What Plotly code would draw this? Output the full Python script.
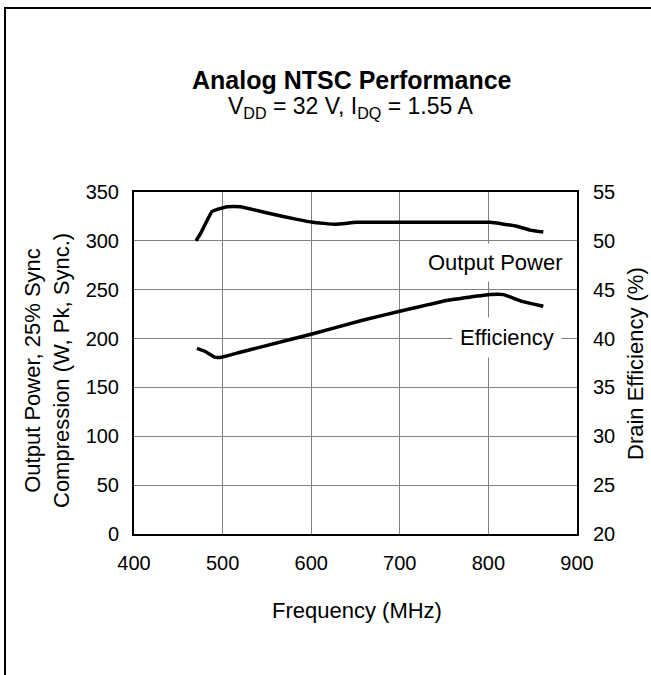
import plotly.graph_objects as go

# Data
freq_power = [470, 476, 488, 497, 505, 520, 553, 584, 602, 627, 651, 700, 750, 802, 832, 847, 862]
output_power = [300, 309, 330, 333, 335, 335, 328, 322, 319, 317, 319, 319, 319, 319, 315, 311, 309]

freq_eff = [471, 480, 491, 499, 520, 546, 602, 659, 700, 753, 802, 817, 838, 862]
efficiency = [39.0, 38.7, 38.1, 38.1, 38.6, 39.2, 40.5, 41.9, 42.8, 43.9, 44.5, 44.5, 43.8, 43.3]

x_ticks = [400, 500, 600, 700, 800, 900]
y_left_ticks = [0, 50, 100, 150, 200, 250, 300, 350]
y_right_ticks = [20, 25, 30, 35, 40, 45, 50, 55]

FONT = "Liberation Sans, Arial, sans-serif"
W, H = 651, 675
L, R, T, B = 134, 577, 192, 534

fig = go.Figure()
fig.add_trace(go.Scatter(x=freq_power, y=output_power, mode="lines",
                         line=dict(color="black", width=3.5, shape="spline", smoothing=0.3),
                         showlegend=False, yaxis="y"))
fig.add_trace(go.Scatter(x=freq_eff, y=efficiency, mode="lines",
                         line=dict(color="black", width=3.5, shape="spline", smoothing=0.3),
                         showlegend=False, yaxis="y2"))

axis_common = dict(showline=True, linecolor="black", linewidth=2, ticks="",
                   tickfont=dict(family=FONT, size=20, color="black"), zeroline=False)

fig.update_layout(
    width=W, height=H,
    margin=dict(l=L, r=W - R, t=T, b=H - B, pad=0),
    paper_bgcolor="white", plot_bgcolor="white",
    xaxis=dict(range=[400, 900], tickvals=x_ticks, showgrid=True, gridcolor="#808080",
               gridwidth=1, mirror=True, ticklabelstandoff=10, **axis_common),
    yaxis=dict(range=[0, 350], tickvals=y_left_ticks, showgrid=True, gridcolor="#808080",
               gridwidth=1, mirror=False, ticklabelstandoff=9, **axis_common),
    yaxis2=dict(range=[20, 55], tickvals=y_right_ticks, overlaying="y", side="right",
                showgrid=False, ticklabelstandoff=10, **axis_common),
    showlegend=False,
)

ann_font = dict(family=FONT, size=22, color="black")
annotations = [
    dict(text="<b>Analog NTSC Performance</b>", x=(352 - L) / (R - L), y=(B - 80) / (B - T),
         font=dict(family=FONT, size=25, color="black")),
    dict(text="V<sub>DD</sub> = 32 V, I<sub>DQ</sub> = 1.55 A", x=(350 - L) / (R - L),
         y=(B - 108) / (B - T), font=dict(family=FONT, size=23, color="black")),
    dict(text="Output Power, 25% Sync<br>Compression (W, Pk, Sync.)", x=(47 - L) / (R - L),
         y=(B - 371) / (B - T), textangle=-90, font=ann_font),
    dict(text="Drain Efficiency (%)", x=(635 - L) / (R - L), y=(B - 364) / (B - T),
         textangle=-90, font=ann_font),
    dict(text="Frequency (MHz)", x=(357 - L) / (R - L), y=(B - 610) / (B - T), font=ann_font),
    dict(text="Output Power", x=(495 - L) / (R - L), y=(B - 262) / (B - T), font=ann_font,
         bgcolor="white", borderpad=6),
    dict(text="Efficiency", x=(507 - L) / (R - L), y=(B - 337) / (B - T), font=ann_font,
         bgcolor="white", borderpad=7),
]
for a in annotations:
    a.update(xref="paper", yref="paper", showarrow=False, xanchor="center", yanchor="middle")
fig.update_layout(annotations=annotations)

# outer frame (extends beyond right and bottom edges)
fig.add_shape(type="rect", xref="paper", yref="paper",
              x0=(5 - L) / (R - L), x1=(665 - L) / (R - L),
              y0=(B - 690) / (B - T), y1=(B - 8) / (B - T),
              line=dict(color="black", width=2), fillcolor="rgba(0,0,0,0)", layer="below")

fig.write_html("out.html", config={"displayModeBar": False},
               post_script="document.body.style.margin='0';document.body.style.overflow='hidden';")
